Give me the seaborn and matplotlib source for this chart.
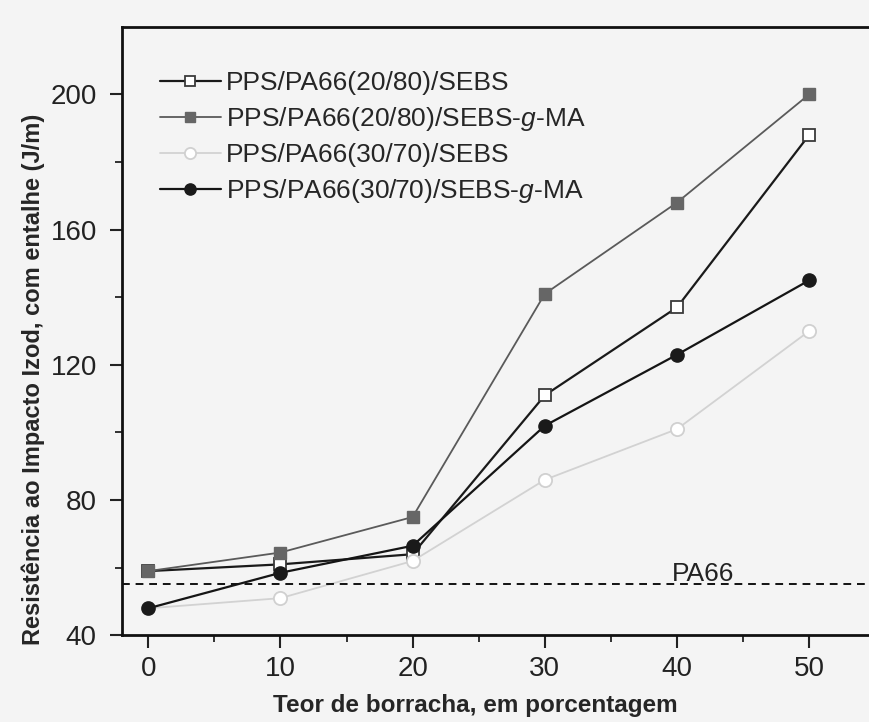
import seaborn as sns
import matplotlib.pyplot as plt
import pandas as pd

# rubber content (%)
teor = [0, 10, 20, 30, 40, 50]

# notched Izod impact strength (J/m)
pps_20_80_sebs = [59, 61, 64, 111, 137, 188]
pps_20_80_sebs_gma = [59, 64.5, 75, 141, 168, 200]
pps_30_70_sebs = [48, 51, 62, 86, 101, 130]
pps_30_70_sebs_gma = [48, 58.5, 66.5, 102, 123, 145]
pa66_ref = 55.3

labels = ['PPS/PA66(20/80)/SEBS',
          'PPS/PA66(20/80)/SEBS-$g$-MA',
          'PPS/PA66(30/70)/SEBS',
          'PPS/PA66(30/70)/SEBS-$g$-MA']

df = pd.DataFrame({'teor': teor,
                   labels[0]: pps_20_80_sebs,
                   labels[1]: pps_20_80_sebs_gma,
                   labels[2]: pps_30_70_sebs,
                   labels[3]: pps_30_70_sebs_gma})

sns.set_style("ticks")
plt.rcParams['font.family'] = ['Liberation Sans', 'DejaVu Sans']
plt.rcParams['mathtext.fontset'] = 'custom'
plt.rcParams['mathtext.it'] = 'Liberation Sans:italic'

bg = '#f4f4f4'
fig = plt.figure(figsize=(8.7, 7.22), dpi=100, facecolor=bg)
ax = fig.add_axes([0.14, 0.12, 0.86, 0.843], facecolor=bg)

styles = [
    dict(color='#1a1a1a', marker='s', mfc='white', mec='#3a3a3a', ms=8.5, lw=1.6, mew=1.3),
    dict(color='#5a5a5a', marker='s', mfc='#666666', mec='#666666', ms=8.5, lw=1.3, mew=1),
    dict(color='#d2d2d2', marker='o', mfc='white', mec='#d0d0d0', ms=9.5, lw=1.3, mew=1.3),
    dict(color='#151515', marker='o', mfc='#1a1a1a', mec='#1a1a1a', ms=9.5, lw=1.6, mew=1),
]
for lab, st in zip(labels, styles):
    sns.lineplot(data=df, x='teor', y=lab, ax=ax, label=lab, **st)

ax.axhline(pa66_ref, color='#111111', lw=1.4, ls=(0, (4, 3)))
ax.text(39.6, pa66_ref + 0.9, 'PA66', fontsize=19, color='#222222', va='baseline')

ax.set_xlim(-2, 54.6)
ax.set_ylim(40, 220)
ax.set_xticks([0, 10, 20, 30, 40, 50])
ax.set_xticks([5, 15, 25, 35, 45], minor=True)
ax.set_yticks([40, 80, 120, 160, 200])
ax.set_yticks([60, 100, 140, 180], minor=True)
ax.tick_params(axis='both', which='major', labelsize=20, length=9, width=1.5,
               colors='#222222', direction='out', pad=6)
ax.tick_params(axis='y', which='major', pad=9)
ax.tick_params(axis='both', which='minor', length=5, width=1.3, color='#222222')

for side in ['left', 'bottom', 'top']:
    ax.spines[side].set_linewidth(2)
    ax.spines[side].set_color('#111111')
ax.spines['right'].set_visible(False)

ax.set_xlabel('Teor de borracha, em porcentagem', fontsize=17.5, fontweight='bold')
ax.set_ylabel('Resistência ao Impacto Izod, com entalhe (J/m)', fontsize=17,
              fontweight='bold')
ax.xaxis.set_label_coords(0.473, -0.097)
ax.yaxis.set_label_coords(-0.103, 0.42)

leg = ax.legend(loc='upper left', bbox_to_anchor=(0.037, 0.945), frameon=False,
                fontsize=19, handlelength=2.3, handletextpad=0.2, labelspacing=0.38,
                borderaxespad=0, markerscale=0.85)

plt.savefig('out.png', dpi=100, facecolor=bg)
